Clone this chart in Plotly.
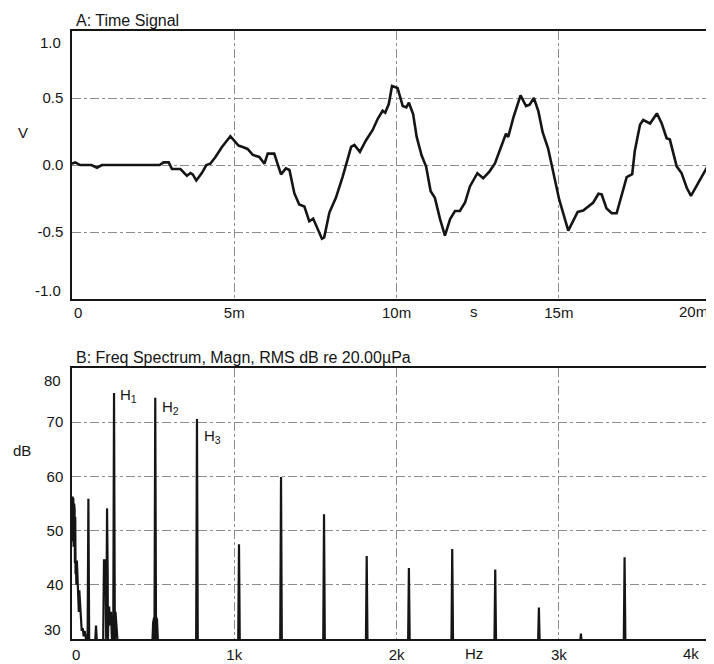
import plotly.graph_objects as go

# ---------------- data ----------------
# A: time signal (time in ms, amplitude in V)
time_ms = [0.00, 0.10, 0.25, 0.60, 0.77, 0.92, 2.70, 2.82, 2.98, 3.08, 3.34, 3.54, 3.65, 3.72, 3.83,
           4.00, 4.14, 4.26, 4.42, 4.62, 4.88, 4.98, 5.13, 5.26, 5.41, 5.57, 5.77, 5.93, 6.03, 6.23,
           6.44, 6.59, 6.70, 6.85, 7.00, 7.16, 7.31, 7.43, 7.57, 7.70, 7.77, 7.93, 8.13, 8.34, 8.60,
           8.70, 8.87, 9.06, 9.26, 9.42, 9.57, 9.65, 9.76, 9.86, 10.03, 10.19, 10.30, 10.38, 10.51,
           10.62, 10.77, 10.91, 11.05, 11.18, 11.34, 11.49, 11.65, 11.80, 11.95, 12.11, 12.26, 12.49,
           12.67, 12.86, 13.03, 13.19, 13.37, 13.44, 13.60, 13.82, 13.99, 14.10, 14.23, 14.37, 14.50,
           14.67, 14.83, 15.01, 15.29, 15.44, 15.58, 15.75, 15.91, 16.06, 16.22, 16.32, 16.47, 16.63,
           16.78, 16.94, 17.09, 17.26, 17.34, 17.50, 17.60, 17.81, 18.02, 18.17, 18.32, 18.42, 18.63,
           18.78, 18.94, 19.07, 19.19, 19.40, 19.58, 19.71, 19.80]
volts = [0.01, 0.02, 0.00, 0.00, -0.02, 0.00, 0.00, 0.02, 0.02, -0.03, -0.03, -0.08, -0.06, -0.07, -0.115,
         -0.06, 0.00, 0.01, 0.06, 0.135, 0.215, 0.19, 0.145, 0.135, 0.12, 0.075, 0.06, 0.01, 0.085, 0.085,
         -0.07, -0.025, -0.037, -0.21, -0.295, -0.31, -0.42, -0.40, -0.48, -0.55, -0.54, -0.355, -0.245, -0.086, 0.135,
         0.15, 0.098, 0.185, 0.26, 0.345, 0.405, 0.39, 0.455, 0.59, 0.575, 0.44, 0.43, 0.465, 0.38,
         0.21, 0.073, -0.012, -0.196, -0.245, -0.404, -0.527, -0.404, -0.343, -0.343, -0.28, -0.16, -0.061,
         -0.098, -0.049, 0.012, 0.123, 0.233, 0.21, 0.355, 0.52, 0.44, 0.45, 0.50, 0.40, 0.245,
         0.123, -0.06, -0.257, -0.49, -0.42, -0.35, -0.34, -0.31, -0.28, -0.215, -0.22, -0.325, -0.36,
         -0.36, -0.225, -0.09, -0.068, 0.105, 0.30, 0.336, 0.31, 0.385, 0.31, 0.20, 0.19, -0.01,
         -0.06, -0.17, -0.23, -0.18, -0.085, -0.01, 0.00, 0.01]

# B: spectrum - low-frequency clutter (Hz, dB)
clutter_hz = [0, 2, 4, 6, 8, 10, 13, 16, 18, 20, 22, 24, 27, 30, 33, 35, 37, 39, 42, 45, 50, 55, 60, 66, 72, 78, 84, 90, 96,
              106, 142, 148, 154, 192, 197, 203, 208, 212, 220, 224, 229, 234, 240, 246, 250,
              268, 274, 282, 495, 500, 506, 519, 524, 530]
clutter_db = [55.5, 48.0, 56.3, 50.0, 56.0, 47.0, 55.0, 54.0, 44.0, 52.5, 42.0, 44.5, 40.0, 44.5, 41.0, 43.5, 38.0, 38.5, 35.0, 39.0, 34.5, 34.0, 31.5, 32.0, 30.5, 31.5, 30.5, 29.0, 29.0,
              29.0, 29.0, 32.5, 29.0, 29.0, 44.5, 44.5, 40.0, 44.0, 42.0, 34.0, 36.0, 32.5, 35.0, 30.0, 33.0,
              35.0, 32.5, 29.0, 29.0, 33.0, 34.0, 34.0, 33.5, 29.0]

# B: spectrum - discrete lines (Hz, dB)
line_hz = [216, 101, 259, 513, 770, 1029, 1288, 1553, 1816, 2076, 2343, 2608, 2877, 3136, 3405]
line_db = [54.1, 55.9, 75.4, 74.5, 70.6, 47.5, 59.9, 53.0, 45.3, 43.1, 46.6, 42.8, 35.8, 31.0, 45.1]

harmonic_labels = ["H<sub>1</sub>", "H<sub>2</sub>", "H<sub>3</sub>"]
harmonic_hz = [259, 513, 770]
harmonic_db = [75.4, 74.5, 70.6]

x_ticks_time = [0, 0.005, 0.010, 0.015]
x_text_time = ["\u00a0\u00a0\u00a00", "5m", "10m", "15m"]
y_ticks_time = [-0.5, 0.0, 0.5]
y_text_time = ["-0.5", "0.0", "0.5"]
y_edge_time = [1.0, -1.0]
y_edge_time_text = ["1.0", "-1.0"]
x_ticks_freq = [0, 1000, 2000, 3000]
x_text_freq = ["\u00a0\u00a00", "1k", "2k", "3k"]
y_ticks_freq = [40, 50, 60, 70]
y_edge_freq = [80, 30]

TIME_MAX_S = 0.01978
FREQ_MAX_HZ = 3956

# ---------------- build spectrum trace ----------------
FLOOR = 29.0
HALF_W = 5.0
pts = list(zip(clutter_hz, clutter_db))
for f, d in zip(line_hz, line_db):
    pts += [(f - HALF_W, FLOOR), (f, d), (f + HALF_W, FLOOR)]
pts += [(FREQ_MAX_HZ, FLOOR)]
pts.sort(key=lambda p: p[0])
spec_f = [p[0] for p in pts]
spec_db = [p[1] for p in pts]

time_s = [t / 1000.0 for t in time_ms]

FONT = "Liberation Sans, Arial, sans-serif"
INK = "#151515"
GRID = "#8c8c8c"

fig = go.Figure()
fig.add_trace(go.Scatter(x=time_s, y=volts, mode="lines",
                         line=dict(color=INK, width=2.6), xaxis="x", yaxis="y",
                         hoverinfo="skip"))
fig.add_trace(go.Scatter(x=spec_f, y=spec_db, mode="lines",
                         line=dict(color=INK, width=2.2), xaxis="x2", yaxis="y2",
                         hoverinfo="skip"))

axis_common = dict(showgrid=True, gridcolor=GRID, griddash="dashdot", gridwidth=1,
                   zeroline=False, ticks="", showline=True, linecolor=INK,
                   automargin=False,
                   tickfont=dict(family=FONT, size=15, color=INK))

# page has an 8px body margin: figure is sized 706x656 so it fills the 714x664 window
fig.update_layout(
    template="none",
    width=706, height=656,
    margin=dict(l=64, r=0, t=0, b=0, pad=0),
    paper_bgcolor="white", plot_bgcolor="white",
    showlegend=False,
    font=dict(family=FONT, size=15, color=INK),
    xaxis=dict(domain=[0, 1], anchor="y", range=[0, TIME_MAX_S],
               tickvals=x_ticks_time, ticktext=x_text_time,
               linewidth=2, mirror=True, ticklabelstandoff=-1, **axis_common),
    yaxis=dict(domain=[0.5564, 0.9649], anchor="x", range=[-1, 1],
               tickvals=y_ticks_time, ticktext=y_text_time,
               linewidth=1.5, ticklabelstandoff=4, **axis_common),
    xaxis2=dict(domain=[0, 1], anchor="y2", range=[0, FREQ_MAX_HZ],
                tickvals=x_ticks_freq, ticktext=x_text_freq,
                linewidth=2, mirror=True, ticklabelstandoff=1, **axis_common),
    yaxis2=dict(domain=[0.0381, 0.4512], anchor="x2", range=[30, 80],
                tickvals=y_ticks_freq,
                linewidth=1.5, ticklabelstandoff=4, **axis_common),
)

ann = []
def text(x, y, s, xref, yref, xanchor="center", yanchor="middle", xshift=0, yshift=0, size=15):
    ann.append(dict(x=x, y=y, xref=xref, yref=yref, text=s, showarrow=False,
                    xanchor=xanchor, yanchor=yanchor, xshift=xshift, yshift=yshift,
                    font=dict(family=FONT, size=size, color=INK)))

# titles
text(0, 1, "A: Time Signal", "x domain", "y domain", xanchor="left", xshift=2, yshift=11, size=16)
text(0, 1, "B: Freq Spectrum, Magn, RMS dB re 20.00µPa", "x2 domain", "y2 domain",
     xanchor="left", xshift=2, yshift=11, size=16)
# axis unit labels
text(-0.0763, 0.8095, "V", "paper", "paper")
text(-0.0783, 0.3247, "dB", "paper", "paper")
text(0.626, 0, "s", "x domain", "y domain", yshift=-12)
text(0.626, 0, "Hz", "x2 domain", "y2 domain", yshift=-14)
# edge tick labels
text(1, 0, "20m", "x domain", "y domain", xanchor="right", xshift=-4, yshift=-12)
text(1, 0, "4k", "x2 domain", "y2 domain", xanchor="right", xshift=-13, yshift=-14)
for v, s, dy in zip(y_edge_time, y_edge_time_text, [-11, 9]):
    text(0, v, s, "x domain", "y", xanchor="right", xshift=-9, yshift=dy)
for v, dy in zip(y_edge_freq, [-12, 10]):
    text(0, v, str(v), "x2 domain", "y2", xanchor="right", xshift=-9, yshift=dy)
# harmonic markers
shifts = [(4, -3), (5, -10), (5, -18)]
for lab, f, d, (dx, dy) in zip(harmonic_labels, harmonic_hz, harmonic_db, shifts):
    text(f, d, lab, "x2", "y2", xanchor="left", yanchor="middle", xshift=dx, yshift=dy)

fig.update_layout(annotations=ann)
fig.write_html("out.html")
